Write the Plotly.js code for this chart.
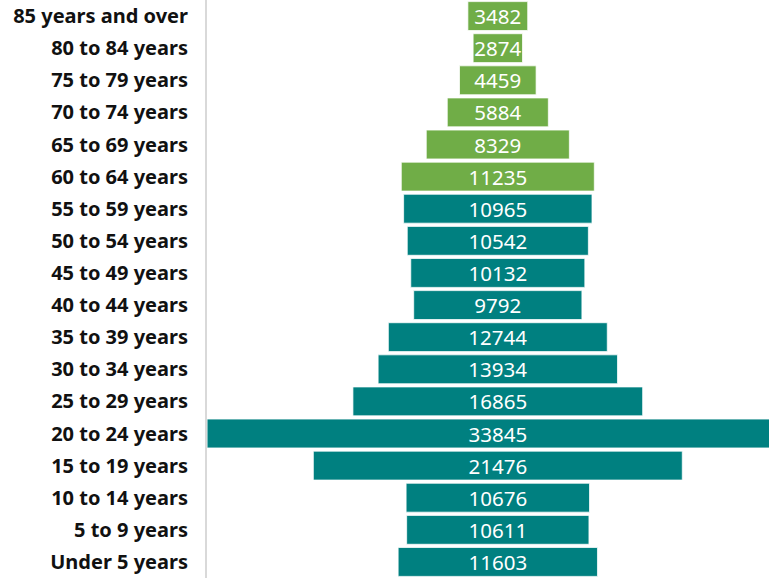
<!DOCTYPE html>
<html><head><meta charset="utf-8">
<script src="https://cdn.plot.ly/plotly-3.0.1.min.js"></script>
<style>html,body{margin:0;padding:0;background:#fff}#chart{width:769px;height:578px}</style>
</head><body><div id="chart"></div>
<script>
var categories = ["85 years and over","80 to 84 years","75 to 79 years","70 to 74 years","65 to 69 years","60 to 64 years","55 to 59 years","50 to 54 years","45 to 49 years","40 to 44 years","35 to 39 years","30 to 34 years","25 to 29 years","20 to 24 years","15 to 19 years","10 to 14 years","5 to 9 years","Under 5 years"];
var values = [3482,2874,4459,5884,8329,11235,10965,10542,10132,9792,12744,13934,16865,33845,21476,10676,10611,11603];
var groups = ["60+","60+","60+","60+","60+","60+","u60","u60","u60","u60","u60","u60","u60","u60","u60","u60","u60","u60"];
var groupColors = {"60+":"#70AD47","u60":"#008080"};

var trace = {
  type:'bar', orientation:'h',
  y: categories,
  x: values,
  base: values.map(function(v){return -v/2;}),
  text: values.map(String),
  textposition:'inside', insidetextanchor:'middle', constraintext:'none',
  textfont:{family:'Noto Sans', size:20.5, color:'#ffffff'},
  marker:{color: groups.map(function(g){return groupColors[g];}), line:{color:'rgba(255,255,255,0.75)', width:1}},
  hoverinfo:'none', cliponaxis:true
};
var layout = {
  width:769, height:578,
  margin:{l:207, r:0, t:0, b:0, pad:0},
  paper_bgcolor:'#fff', plot_bgcolor:'#fff',
  showlegend:false, bargap:0.1,
  xaxis:{range:[-16927,15786], visible:false, fixedrange:true},
  yaxis:{autorange:'reversed', type:'category', showline:true, linecolor:'#d9d9d9', linewidth:2,
         showgrid:false, zeroline:false, ticks:'', ticklabelstandoff:13,
         tickfont:{family:'Noto Sans', size:20, color:'#111111', weight:'bold'}, automargin:false}
};
Plotly.newPlot('chart',[trace],layout,{displayModeBar:false, staticPlot:true});
</script></body></html>
